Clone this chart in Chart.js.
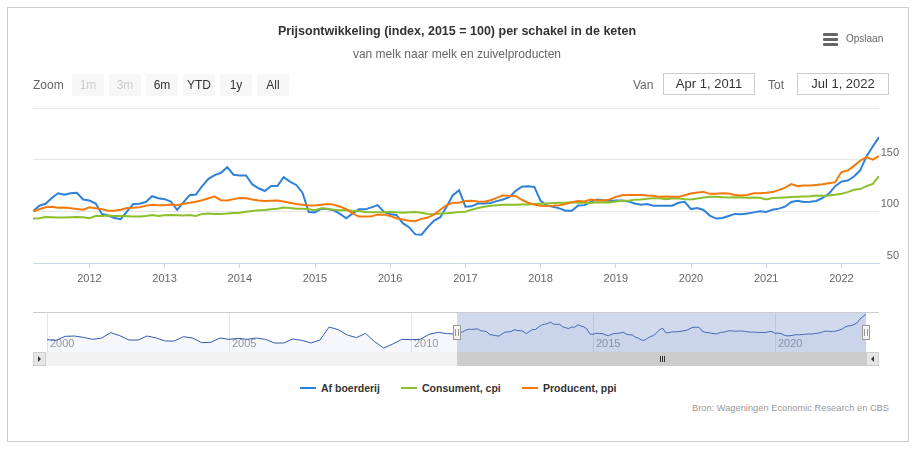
<!DOCTYPE html>
<html>
<head>
<meta charset="utf-8">
<script src="https://cdn.jsdelivr.net/npm/chart.js@4.4.1/dist/chart.umd.min.js"></script>
<style>
  body { margin: 0; background: #fff; font-family: "Liberation Sans", Arial, sans-serif; }
  #wrap { position: relative; width: 917px; height: 449px; overflow: hidden; }
  #frame { position: absolute; left: 7px; top: 7px; width: 902px; height: 435px; box-sizing: border-box; border: 1px solid #ccc; }
  canvas { position: absolute; left: 0; }
  #main { top: 0; }
  #nav { top: 300px; }
  .t { position: absolute; left: 0; width: 914px; text-align: center; white-space: nowrap; }
  #title { top: 23px; font-size: 12.5px; font-weight: bold; color: #333; line-height: 16px; }
  #subtitle { top: 46px; font-size: 12px; color: #666; line-height: 16px; }
  #menu { position: absolute; left: 823px; top: 32px; height: 14px; }
  #menu .bars { position: absolute; left: 0; top: 1px; width: 15px; }
  #menu .bars i { display: block; height: 3px; background: #666; margin-bottom: 2px; border-radius: 1px; }
  #menu .txt { position: absolute; left: 23px; top: 0; font-size: 10px; color: #666; line-height: 14px; }
  .lbl { position: absolute; top: 74px; line-height: 22px; font-size: 12px; color: #666; }
  .btn { position: absolute; top: 74px; width: 32px; height: 22px; line-height: 22px; text-align: center; background: #f7f7f7; border-radius: 2px; font-size: 12px; color: #333; }
  .btn.off { color: #ccc; }
  .inp { position: absolute; top: 73px; width: 92px; height: 22px; box-sizing: border-box; border: 1px solid #ccc; line-height: 20px; text-align: center; font-size: 13px; color: #333; }
  #legend { position: absolute; left: 0; top: 381px; width: 917px; height: 14px; font-size: 10.5px; font-weight: bold; color: #333; line-height: 14px; }
  #legend .sym { position: absolute; top: 6px; width: 16px; height: 2px; }
  #legend .name { position: absolute; top: 0; white-space: nowrap; }
  #credits { position: absolute; right: 28px; top: 402px; font-size: 9.3px; color: #999; line-height: 12px; }
</style>
</head>
<body>
<div id="wrap">
  <div id="frame"></div>
  <canvas id="main" width="917" height="300"></canvas>
  <canvas id="nav" width="917" height="70"></canvas>
  <div class="t" id="title">Prijsontwikkeling (index, 2015 = 100) per schakel in de keten</div>
  <div class="t" id="subtitle">van melk naar melk en zuivelproducten</div>
  <div id="menu"><span class="bars"><i></i><i></i><i></i></span><span class="txt">Opslaan</span></div>
  <div class="lbl" style="left:33px">Zoom</div>
  <div class="btn off" style="left:72px">1m</div>
  <div class="btn off" style="left:109px">3m</div>
  <div class="btn" style="left:146px">6m</div>
  <div class="btn" style="left:183px">YTD</div>
  <div class="btn" style="left:220px">1y</div>
  <div class="btn" style="left:257px">All</div>
  <div class="lbl" style="left:633px">Van</div>
  <div class="inp" style="left:663px">Apr 1, 2011</div>
  <div class="lbl" style="left:768px">Tot</div>
  <div class="inp" style="left:797px">Jul 1, 2022</div>
  <div id="legend"></div>
  <div id="credits">Bron: Wageningen Economic Research en CBS</div>
</div>
<script>
// maandelijkse reeksen, april 2011 t/m juli 2022
const startYear = 2011;
const startMonth = 4;

const boerderij = [
  100, 105.4, 107.3, 113, 117.5, 116, 117.5, 118, 111.5, 110.5, 107.5, 97.5,
  96, 93.6, 92.4, 100, 107, 107.3, 109, 114.6, 112.7, 111.8, 109.5, 101.3,
  108.6, 115.6, 116.2, 124.5, 131.5, 135, 137.3, 142.7, 135.4, 134.7, 134.7, 126,
  122.3, 119.7, 124.5, 124.5, 133, 128.7, 125.5, 118, 99.4, 99, 102.5, 102.2,
  101, 97.5, 93.3, 98, 101.9, 101.9, 103.8, 106, 99.4, 97.1, 96.5, 88.5,
  84.7, 77.7, 77.4, 84.7, 91, 94.3, 104.5, 115.6, 120.4, 104.5, 104.8, 107.6,
  107.6, 108, 109.9, 111.5, 113.7, 119.7, 123.9, 124.2, 123.6, 110.2, 105.7, 104.5,
  102.9, 100.6, 100.6, 105.7, 106, 109.2, 111.5, 110.8, 109.9, 110.5, 110.5, 109.6,
  107.6, 106.4, 107, 105.4, 105.4, 105.4, 105.4, 108.3, 109.2, 102.2, 103.2, 101.3,
  95.9, 93, 93.6, 95.5, 97.5, 97.1, 98, 99, 100, 99.4, 101.6, 102.6,
  104.5, 109, 110.3, 109, 109.3, 110, 113.1, 117, 124.4, 128.8, 129.8, 133.7,
  139.7, 153.2, 162.8, 171.8
];

const consument = [
  93, 93.3, 94.6, 94.3, 94, 94, 94.3, 94.6, 94.3, 93.3, 95.5, 95.5,
  95.9, 95.5, 95.5, 95.2, 94.9, 94.9, 95.5, 96.5, 95.5, 96.2, 96.5, 96.3,
  96, 96.5, 95.5, 97.5, 97.8, 97.5, 97.5, 97.8, 98.4, 98.7, 99.7, 100.3,
  101, 101.3, 102, 102.5, 103.8, 103.2, 102.5, 102.5, 102, 101, 102.9, 102.6,
  101.6, 101, 101.3, 100.6, 100.3, 99.4, 99, 99, 99, 99.7, 99, 98.7,
  99, 99.4, 98.7, 97.5, 97.1, 97.8, 98.1, 98.7, 99.4, 99.7, 101.6, 103.2,
  104.5, 105.4, 106, 106.3, 106.3, 106.3, 106.7, 106.7, 107, 107.3, 107.6, 108,
  108.3, 108.3, 108.9, 108.3, 108.6, 108, 108.9, 108.6, 108.5, 109.6, 110.2, 110.2,
  111.1, 111.5, 112.1, 112.7, 112.7, 111.8, 112.4, 112.7, 111.8, 111.5, 112.4, 113.4,
  114, 114, 113.7, 113.4, 113.7, 113.4, 113.1, 113.3, 113.2, 111.5, 112.8, 113.2,
  113.5, 113.8, 114.1, 114.4, 114.7, 115.4, 115, 115.4, 116, 117, 118.6, 120.8,
  121.5, 124.4, 126.6, 134
];

const producent = [
  100, 102, 104, 104.5, 103.5, 103.8, 103, 102.3, 101.6, 104, 103, 102,
  100.6, 100.6, 101.6, 103.2, 103.5, 104, 105.4, 106.4, 106, 106, 106.7, 106,
  107.3, 108.3, 109.2, 110.8, 112.7, 114.3, 110.8, 110.5, 111.8, 113, 112.7, 111.5,
  110.5, 109.9, 110.2, 110.5, 109.5, 108.3, 107, 106.4, 105.7, 105.7, 106.4, 107,
  106.5, 104.5, 102.2, 98, 94.9, 94.9, 95.2, 96.8, 96.8, 95.5, 93.3, 92,
  90.8, 90.4, 92.7, 94, 96.8, 101.6, 106, 108.3, 108.3, 110, 110.2, 109.6,
  109.2, 110.8, 113, 115.6, 114.9, 114.9, 111.1, 108.3, 106.7, 105.4, 105.1, 105.4,
  106, 107, 108.9, 109.9, 109.6, 111.5, 110.8, 110.5, 111.5, 114, 115.6, 115.9,
  115.9, 115.9, 115.3, 115, 114, 114.3, 114, 114, 115.6, 117.2, 118.2, 118.8,
  116.9, 116.9, 117.5, 117.2, 115.9, 115.3, 115.9, 117.5, 117.6, 118, 118.6, 120.5,
  123, 126.3, 124.4, 125, 125, 125.6, 126.3, 127.2, 128.2, 138, 139.5, 144,
  149, 152.5, 150, 153.5
];

// navigator: af boerderij per kwartaal, jan 2000 t/m jan 2011
const navStartYear = 2000;
const navBoerderijQ = [
  79.4, 77, 91.4, 92.6, 87.8, 80.6, 85.4, 104.6, 93.8, 78.2, 78.2, 92.6,
  85.4, 74.6, 74.6, 90.2, 85.4, 68.6, 69.8, 85.4, 80.6, 84.2, 80.6, 85.4,
  80.6, 67.4, 67.4, 81.8, 77, 67.4, 78.2, 125, 115.4, 96.2, 86.6, 102.2,
  72.2, 49.4, 63.8, 80.6, 79.4, 80.6, 98.6, 105.8, 101
];

const yearTicks = [2012, 2013, 2014, 2015, 2016, 2017, 2018, 2019, 2020, 2021, 2022];
const yTicks = [50, 100, 150, 200];
const navYears = [2000, 2005, 2010, 2015, 2020];

const seriesNames = ['Af boerderij', 'Consument, cpi', 'Producent, ppi'];
const seriesColors = ['#2f80d8', '#8ac02c', '#f27a0c'];

function monthToYear(i) {
  return startYear + (startMonth - 1 + i) / 12;
}
function toPoints(arr) {
  return arr.map((v, i) => ({ x: monthToYear(i), y: v }));
}

Chart.defaults.font.family = '"Liberation Sans", Arial, sans-serif';

const firstX = monthToYear(0);
const lastX = monthToYear(boerderij.length - 1);

new Chart(document.getElementById('main'), {
  type: 'line',
  data: {
    datasets: [boerderij, consument, producent].map((arr, k) => ({
      label: seriesNames[k],
      data: toPoints(arr),
      borderColor: seriesColors[k],
      borderWidth: 2,
      pointRadius: 0,
      tension: 0,
      order: 3 - k
    }))
  },
  options: {
    responsive: false,
    animation: false,
    layout: { padding: { left: 33, right: 38, top: 108, bottom: 7 } },
    plugins: { legend: { display: false }, tooltip: { enabled: false } },
    scales: {
      x: {
        type: 'linear',
        min: firstX,
        max: lastX,
        afterBuildTicks: s => { s.ticks = yearTicks.map(v => ({ value: v })); },
        afterFit: s => { s.height = 30; },
        grid: { drawOnChartArea: false, drawTicks: true, tickLength: 5, color: '#ccd6eb' },
        border: { color: '#ccd6eb' },
        ticks: { color: '#666', font: { size: 11 }, padding: 4, maxRotation: 0, autoSkip: false, callback: v => String(v) }
      },
      y: {
        position: 'right',
        min: 50,
        max: 200,
        afterBuildTicks: s => { s.ticks = yTicks.map(v => ({ value: v })); },
        afterFit: s => { s.width = 0; },
        grid: { color: '#e6e6e6', drawTicks: false },
        border: { display: false },
        ticks: { mirror: true, padding: 20, labelOffset: -7, color: '#666', font: { size: 11 }, callback: v => (v === 200 ? '' : String(v)) }
      }
    }
  }
});

// navigator
const navData = navBoerderijQ.map((v, q) => ({ x: navStartYear + q / 4, y: v })).concat(toPoints(boerderij));

const navExtras = {
  id: 'navExtras',
  afterDraw(chart) {
    const { ctx, chartArea: a, scales: { x } } = chart;
    const x0 = Math.round(x.getPixelForValue(firstX));
    const x1 = Math.round(x.getPixelForValue(lastX));
    const L = a.left - 14, R = a.right + 13;
    ctx.save();
    // selectie
    ctx.fillStyle = 'rgba(102,133,194,0.3)';
    ctx.fillRect(x0, a.top, x1 - x0, a.bottom - a.top);
    // rand bovenaan
    ctx.strokeStyle = '#cccccc';
    ctx.lineWidth = 1;
    ctx.beginPath();
    ctx.moveTo(L, a.top + 0.5);
    ctx.lineTo(R, a.top + 0.5);
    ctx.stroke();
    // scrollbar
    const sy = a.bottom, sh = 14;
    ctx.fillStyle = '#f2f2f2';
    ctx.fillRect(L, sy, R - L, sh);
    ctx.fillStyle = '#cccccc';
    ctx.fillRect(x0, sy, x1 - x0, sh);
    // grip
    ctx.strokeStyle = '#333';
    const gx = Math.round((x0 + x1) / 2);
    for (let k = -2; k <= 2; k += 2) {
      ctx.beginPath();
      ctx.moveTo(gx + k + 0.5, sy + 4);
      ctx.lineTo(gx + k + 0.5, sy + 10);
      ctx.stroke();
    }
    // knoppen
    [[L, -1], [a.right, 1]].forEach(([bx, dir]) => {
      ctx.fillStyle = '#e6e6e6';
      ctx.fillRect(bx, sy, 13, sh);
      ctx.strokeStyle = '#cccccc';
      ctx.strokeRect(bx + 0.5, sy + 0.5, 12, sh - 1);
      ctx.fillStyle = '#333';
      const cx = bx + 6.5, cy = sy + sh / 2;
      ctx.beginPath();
      ctx.moveTo(cx - 1.5 * dir, cy);
      ctx.lineTo(cx + 1.5 * dir, cy - 3);
      ctx.lineTo(cx + 1.5 * dir, cy + 3);
      ctx.closePath();
      ctx.fill();
    });
    // handvatten
    const hy = Math.round((a.top + a.bottom) / 2) - 7;
    [x0, x1].forEach(hx => {
      ctx.fillStyle = '#f2f2f2';
      ctx.strokeStyle = '#999';
      ctx.fillRect(hx - 4, hy, 8, 15);
      ctx.strokeRect(hx - 3.5, hy + 0.5, 7, 14);
      ctx.beginPath();
      ctx.moveTo(hx - 1.5, hy + 4); ctx.lineTo(hx - 1.5, hy + 11);
      ctx.moveTo(hx + 1.5, hy + 4); ctx.lineTo(hx + 1.5, hy + 11);
      ctx.stroke();
    });
    ctx.restore();
  }
};

new Chart(document.getElementById('nav'), {
  type: 'line',
  data: {
    datasets: [{
      data: navData,
      borderColor: '#335cad',
      borderWidth: 1,
      backgroundColor: 'rgba(51,92,173,0.05)',
      fill: 'start',
      pointRadius: 0,
      tension: 0
    }]
  },
  options: {
    responsive: false,
    animation: false,
    layout: { padding: { left: 47, right: 51, top: 12, bottom: 18 } },
    plugins: { legend: { display: false }, tooltip: { enabled: false } },
    scales: {
      x: {
        type: 'linear',
        min: navStartYear,
        max: lastX,
        afterBuildTicks: s => { s.ticks = navYears.map(v => ({ value: v })); },
        afterFit: s => { s.height = 0; },
        grid: { color: '#e6e6e6', drawTicks: false },
        border: { display: false },
        ticks: { mirror: true, color: '#999', font: { size: 11 }, padding: 1, align: 'start', labelOffset: 3, maxRotation: 0, autoSkip: false, callback: v => String(v) }
      },
      y: { display: false, min: 35, max: 179 }
    }
  },
  plugins: [navExtras]
});

// legenda
const legend = document.getElementById('legend');
const symLeft = [300, 401, 522];
seriesNames.forEach((name, k) => {
  const sym = document.createElement('span');
  sym.className = 'sym';
  sym.style.left = symLeft[k] + 'px';
  sym.style.background = seriesColors[k];
  const txt = document.createElement('span');
  txt.className = 'name';
  txt.style.left = (symLeft[k] + 21) + 'px';
  txt.textContent = name;
  legend.appendChild(sym);
  legend.appendChild(txt);
});
</script>
</body>
</html>
